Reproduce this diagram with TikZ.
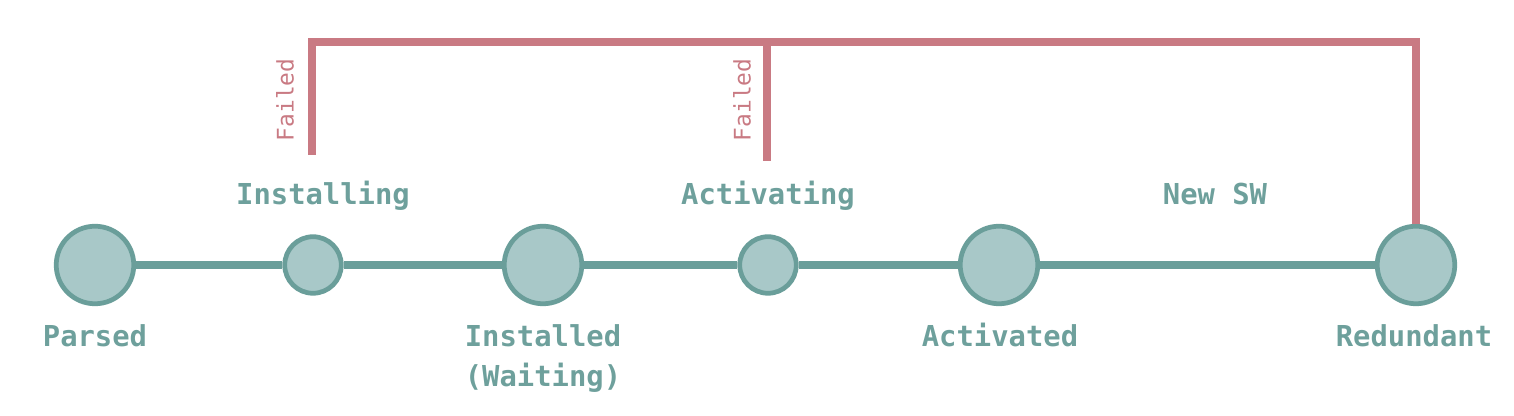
\documentclass[tikz,border=0pt]{standalone}
\usepackage{fontspec}
\setmonofont{DejaVu Sans Mono}
\definecolor{teal1}{RGB}{106,158,154}
\definecolor{tealfill}{RGB}{168,200,200}
\definecolor{failred}{RGB}{201,122,131}
\definecolor{tealtext}{RGB}{110,160,156}
\begin{document}
\begin{tikzpicture}[x=0.01cm,y=-0.01cm,
  bigstate/.style={circle,draw=teal1,fill=tealfill,line width=1.35pt,inner sep=0pt,minimum size=0.775cm},
  smallstate/.style={circle,draw=teal1,fill=tealfill,line width=1.35pt,inner sep=0pt,minimum size=0.565cm},
  mainline/.style={draw=teal1,line width=2.1pt},
  failline/.style={draw=failred,line width=2.3pt},
  lbl/.style={font=\ttfamily\bfseries\fontsize{8.2}{11.4}\selectfont,text=tealtext,anchor=base,inner sep=0pt},
  faillbl/.style={font=\ttfamily\fontsize{6.5}{8}\selectfont,text=failred,rotate=90,inner sep=0pt}]
\useasboundingbox (0,0) rectangle (1514,416);
% states
\node[bigstate] (P) at (95,265) {};
\node[smallstate] (I) at (313,265) {};
\node[bigstate] (W) at (543,265) {};
\node[smallstate] (A) at (768,265) {};
\node[bigstate] (C) at (999,265) {};
\node[bigstate] (R) at (1416,265) {};
% main line
\draw[mainline] (P) -- (I);
\draw[mainline] (I) -- (W);
\draw[mainline] (W) -- (A);
\draw[mainline] (A) -- (C);
\draw[mainline] (C) -- (R);
% failure paths
\coordinate (top) at (0,42);
\coordinate (f1) at (312,155);
\coordinate (f2) at (767,161);
\draw[failline,line join=miter] (f1) |- (R.north |- top) -- (R.north);
\draw[failline] (f2) -- (f2 |- top);
\node[faillbl] (fl1) at (285,100) {Failed};
\node[faillbl] (fl2) at (742,100) {Failed};
% labels
\node[lbl] (tI) at (323,205) {Installing};
\node[lbl] (tA) at (768,205) {Activating};
\node[lbl] (tN) at (1215,205) {New SW};
\node[lbl] (tP) at (95,347) {Parsed};
\node[lbl,align=center] (tW) at (543,387) {Installed\\(Waiting)};
\node[lbl] (tC) at (1000,347) {Activated};
\node[lbl] (tR) at (1414,347) {Redundant};
\end{tikzpicture}
\end{document}
